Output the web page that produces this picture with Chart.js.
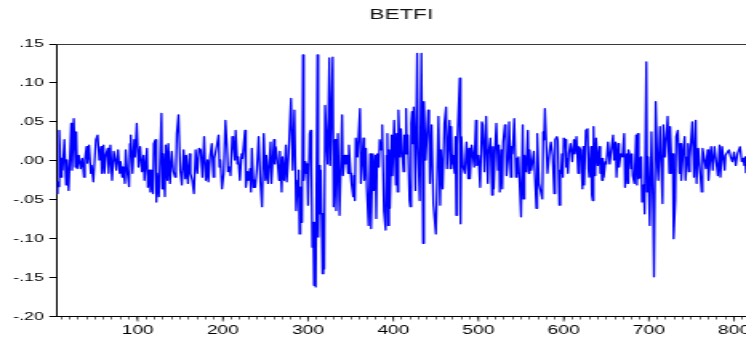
<!DOCTYPE html>
<html><head><meta charset="utf-8">
<style>
html,body{margin:0;padding:0;background:#fff;}
#wrap{width:746px;height:339px;overflow:hidden;}
canvas{display:block;}
</style>
<script src="https://cdn.jsdelivr.net/npm/chart.js@4.4.1/dist/chart.umd.min.js"></script>
</head><body>
<div id="wrap"><canvas id="c" width="466" height="339" style="width:746px;height:339px"></canvas></div>
<script>
const chartTitle = 'BETFI';
const xMin = 5, xMax = 814;
const xMajorTicks = [100,200,300,400,500,600,700,800];
const yTickValues = [-0.20,-0.15,-0.10,-0.05,0.00,0.05,0.10,0.15];
const yTickLabels = ['-.20','-.15','-.10','-.05','.00','.05','.10','.15'];

const betfi1 = [[5,-.042],[6,-.027],[7,-.033],[8,.039],[10,-.021],[11,.003],[12,-.012],[14,.027],[16,-.031],[17,.001],[19,-.038],[22,.048],[23,-.012],[25,.054],[27,-.008],[28,.037],[29,-.010],[31,.007],[33,-.010],[35,.003],[37,-.021],[38,.001],[40,.018],[41,-.003],[43,.020],[45,-.016],[46,-.006],[48,-.027],[51,.027],[53,.033],[55,.001],[57,.018],[58,-.016],[60,.020],[61,-.016],[63,.009],[65,.016],[66,-.016],[68,.020],[70,-.025],[72,.012],[74,-.001],[75,-.012],[77,.014],[79,-.016],[80,-.001],[82,-.021],[83,-.008],[85,-.029],[86,.014],[88,-.016],[90,-.033],[91,.022]];
const betfi2 = [[92,.033],[94,-.016],[96,.027],[97,.005],[99,.048],[101,-.008],[103,.018],[105,-.014],[107,.007],[108,-.025],[111,.016],[112,-.034],[114,-.012],[115,-.040],[116,-.012],[118,-.042],[119,.022],[121,.027],[122,-.053],[123,-.016],[125,-.046],[128,.061],[129,-.036],[130,.009],[132,-.046],[133,.020],[135,-.025],[136,.022],[138,-.029],[140,.012],[142,-.014],[144,-.021],[145,-.010],[146,.035],[148,.059],[150,-.012],[152,-.031],[154,.014],[156,-.023],[157,.007],[159,-.029],[161,.009],[162,-.016],[164,-.025],[166,-.042],[168,.014],[170,-.016],[172,.016],[174,.014],[176,-.021],[178,.031],[180,-.025],[182,.001],[183,-.027],[185,.005],[187,.022],[189,-.021],[190,.003]];
const betfi3 = [[193,.020],[195,.033],[196,-.008],[197,.001],[199,-.036],[201,-.016],[203,.052],[205,.014],[206,-.014],[208,-.008],[209,-.019],[211,.031],[212,.027],[214,.001],[215,.039],[217,-.004],[218,.005],[220,-.025],[222,.009],[223,.003],[226,.039],[227,-.034],[229,-.014],[230,-.025],[232,-.010],[233,-.040],[234,.016],[236,-.034],[237,-.025],[238,-.034],[240,-.010],[242,.031],[244,-.027],[246,-.059],[248,.035],[250,-.025],[251,.007],[253,-.029],[256,.024],[257,-.029],[260,.027],[261,-.004],[262,.018],[264,.001],[266,-.025],[267,.012],[269,-.040],[270,.005],[272,-.025],[274,.020],[275,-.027],[277,.005],[280,.080],[282,-.012],[284,.065],[286,-.064],[288,-.025],[289,-.012],[290,-.094]];
const betfi4 = [[291,-.034],[293,-.079],[294,.136],[295,-.025],[297,-.001],[298,-.016],[299,-.004],[300,-.057],[302,.035],[303,.039],[304,-.008],[305,-.111],[306,-.079],[307,-.160],[308,-.079],[309,-.162],[311,.136],[312,-.098],[313,-.006],[314,-.068],[315,-.012],[317,-.145],[318,-.068],[319,-.139],[320,.071],[322,.016],[323,-.004],[325,.132],[326,-.006],[329,.133],[330,-.059],[332,.027],[333,-.064],[335,.035],[337,-.070],[340,.059],[341,-.019],[343,.007],[344,-.004],[346,.007],[347,-.016],[348,.020],[350,-.016],[351,-.029],[353,-.046],[354,-.019],[355,-.051],[356,.029],[358,.005],[361,.067],[362,-.029],[365,.029],[366,-.025],[368,.016],[369,-.034],[371,-.083],[373,.009],[374,-.087],[376,.009],[377,-.038],[379,.007],[380,-.074],[381,.009],[383,-.008],[384,.027],[386,.014],[387,.046],[389,-.064]];
const betfi5 = [[391,-.089],[392,.007],[393,.035],[394,-.083],[395,.014],[396,-.061],[398,.033],[399,-.019],[401,.052],[403,-.031],[404,.035],[405,-.040],[406,.065],[408,.005],[409,.041],[411,.001],[412,-.014],[413,.033],[414,.009],[415,.067],[416,.009],[417,.033],[419,-.051],[420,-.059],[421,.048],[422,.063],[423,.022],[424,.069],[426,-.038],[428,.138],[429,.018],[431,-.051],[433,.138],[435,-.106],[436,.076],[438,.001],[441,.065],[442,.044],[443,-.029],[445,.046],[447,-.055],[450,-.094],[453,.057],[455,-.057],[456,.014],[458,-.036],[460,.048],[462,.069],[463,-.010],[466,.052],[467,-.010],[468,.044],[469,-.004],[470,.007],[472,-.016],[473,.031],[474,-.070],[475,.020],[478,.106],[479,-.081],[480,.031],[482,-.008],[484,-.016],[486,.024],[488,-.023],[489,.016],[490,-.023]];
const betfi6 = [[492,.020],[493,.012],[495,-.008],[497,.052],[498,-.006],[500,.007],[502,-.034],[504,.050],[505,.046],[507,-.014],[509,.057],[511,-.029],[512,.009],[514,.029],[516,-.044],[517,.018],[518,-.036],[520,.027],[521,.048],[523,-.012],[524,.020],[525,-.040],[527,.014],[528,-.036],[529,.024],[531,.046],[532,.039],[533,-.019],[535,.005],[536,.050],[538,-.021],[539,.018],[540,.009],[542,.054],[544,-.021],[545,.003],[546,-.016],[547,.005],[550,-.072],[552,.046],[553,-.049],[554,.007],[556,-.014],[558,.039],[559,-.016],[560,.014],[562,-.012],[565,.012],[568,-.061],[569,.035],[571,-.029],[575,-.049],[576,.037],[577,.027],[578,.067],[581,-.016],[584,.018],[585,.024],[587,.007],[589,-.042]];
const betfi7 = [[590,.027],[592,.031],[593,.027],[595,-.057],[596,-.012],[597,-.016],[598,.009],[599,-.021],[600,.029],[602,.027],[603,-.008],[604,.003],[605,-.016],[606,.009],[608,.022],[610,-.001],[612,.027],[613,.009],[615,.031],[617,-.016],[618,.018],[620,.014],[622,-.036],[623,.018],[624,-.031],[626,.039],[628,.041],[629,-.010],[630,-.021],[632,.018],[633,-.044],[634,-.051],[635,.044],[636,-.008],[637,-.019],[638,.029],[640,-.006],[642,.018],[643,-.016],[644,.003],[645,-.025],[646,.003],[647,-.021],[649,-.001],[650,-.004],[652,.024],[654,-.004],[655,.007],[658,.033],[659,.001],[661,.024],[662,-.021],[664,.022],[665,-.008],[667,.009],[669,.005],[671,.035],[672,-.034],[674,.009],[675,-.029],[676,.014],[678,.005],[679,-.010],[680,.009],[681,-.019],[683,-.029]];
const betfi8 = [[685,.033],[686,-.031],[687,.035],[688,-.023],[689,-.021],[690,.003],[691,.005],[692,-.053],[694,-.031],[695,-.068],[697,.127],[698,-.040],[699,.005],[701,-.083],[703,.037],[705,-.066],[706,-.149],[708,.076],[710,-.008],[711,-.025],[713,.044],[716,-.055],[717,.046],[719,.005],[722,.057],[724,-.016],[725,.044],[727,-.016],[728,.009],[729,-.100],[731,-.051],[732,.031],[734,.039],[736,-.016],[737,.022],[738,-.025],[740,.009],[742,.031],[743,-.025],[745,.005],[746,.022],[747,-.014],[748,.003],[751,.050],[753,-.021],[755,.052],[756,-.029],[758,.016],[762,-.040],[763,.016],[767,-.010],[769,.014],[770,-.025],[773,.018],[775,-.012],[777,.018],[781,-.019],[783,.020],[784,-.021],[786,.018],[789,-.012],[790,.007],[794,.014],[796,.005],[798,-.001],[800,.011],[802,-.006],[804,.009],[807,.018],[809,-.001],[811,.003],[812,-.006],[813,.005],[814,-.016]];

const betfi = [].concat(betfi1,betfi2,betfi3,betfi4,betfi5,betfi6,betfi7,betfi8);

const FONT = "'Liberation Sans', Arial, sans-serif";

const framePlugin = {
  id: 'frame',
  beforeDraw(chart) {
    const ctx = chart.ctx;
    ctx.save();
    ctx.fillStyle = '#ffffff';
    ctx.fillRect(0, 0, chart.width, chart.height);
    ctx.restore();
  },
  afterDraw(chart) {
    const {ctx, chartArea: a, scales: {x}} = chart;
    ctx.save();
    ctx.strokeStyle = '#3a3a3a';
    ctx.lineWidth = 1;
    ctx.beginPath();
    ctx.moveTo(a.left, Math.round(a.top) + 0.5);
    ctx.lineTo(a.right, Math.round(a.top) + 0.5);
    ctx.stroke();
    ctx.strokeStyle = '#000';
    ctx.lineWidth = 0.7;
    xMajorTicks.forEach(v => {
      const px = x.getPixelForValue(v);
      ctx.beginPath();
      ctx.moveTo(px, a.bottom);
      ctx.lineTo(px, a.bottom + 5);
      ctx.stroke();
    });
    ctx.restore();
  }
};

new Chart(document.getElementById('c'), {
  type: 'line',
  data: {
    datasets: [{
      label: chartTitle,
      data: betfi.map(p => ({x: p[0], y: p[1]})),
      borderColor: '#0000ff',
      borderWidth: 1.3,
      borderJoinStyle: 'round',
      pointRadius: 0,
      tension: 0,
      fill: false
    }]
  },
  options: {
    responsive: false,
    animation: false,
    devicePixelRatio: 1,
    layout: {padding: 0},
    plugins: {
      legend: {display: false},
      tooltip: {enabled: false},
      title: {
        display: true,
        text: chartTitle,
        fullSize: false,
        color: '#111',
        font: {family: FONT, size: 14, weight: 'normal', lineHeight: 1.2},
        padding: {top: 6.6, bottom: 20.6}
      }
    },
    scales: {
      x: {
        type: 'linear',
        min: xMin,
        max: xMax,
        afterFit(s) { s.height = 22.5; s.paddingLeft = 0; s.paddingRight = 0; },
        border: {display: true, color: '#000', width: 1},
        grid: {drawOnChartArea: false, drawTicks: true, tickLength: 3, color: '#000', lineWidth: 0.6},
        ticks: {
          stepSize: 10,
          includeBounds: false,
          autoSkip: false,
          maxRotation: 0,
          padding: 4,
          color: '#000',
          font: {family: FONT, size: 12},
          callback: v => xMajorTicks.includes(v) ? String(v) : ''
        }
      },
      y: {
        type: 'linear',
        min: -0.2,
        max: 0.15,
        afterFit(s) { s.width = 35.4; s.paddingTop = 0; s.paddingBottom = 0; },
        afterBuildTicks(s) { s.ticks = yTickValues.map(v => ({value: v})); },
        border: {display: true, color: '#000', width: 1},
        grid: {drawOnChartArea: false, drawTicks: true, tickLength: 4.6, color: '#000', lineWidth: 1},
        ticks: {
          padding: 3.5,
          color: '#000',
          font: {family: FONT, size: 11},
          callback: (v) => {
            const i = yTickValues.findIndex(t => Math.abs(t - v) < 1e-9);
            return i >= 0 ? yTickLabels[i] : '';
          }
        }
      }
    }
  },
  plugins: [framePlugin]
});
</script>
</body></html>
